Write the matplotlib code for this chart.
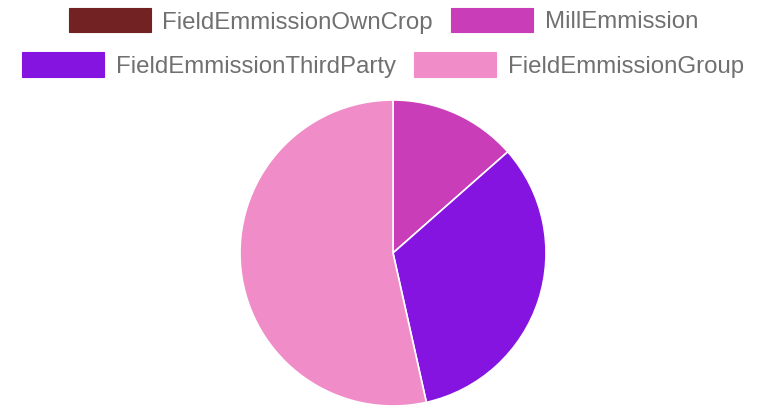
import matplotlib

matplotlib.use("Agg")
import matplotlib.pyplot as plt
from matplotlib.patches import Rectangle


labels = [
    "FieldEmmissionOwnCrop",
    "MillEmmission",
    "FieldEmmissionThirdParty",
    "FieldEmmissionGroup",
]
values = [0.0, 13.5, 33.0, 53.5]
colors = ["#722222", "#C93DB8", "#8514E0", "#F08DC8"]

FIG_W, FIG_H = 769, 408
DPI = 100

plt.rcParams["font.family"] = ["Liberation Sans", "DejaVu Sans"]

figure = plt.figure(figsize=(FIG_W / DPI, FIG_H / DPI), dpi=DPI)

# pie: centre (393, 253) px from top, radius 153 px
cx, cy, radius = 393, 253, 153
axis = figure.add_axes([
    (cx - radius) / FIG_W,
    (FIG_H - cy - radius) / FIG_H,
    2 * radius / FIG_W,
    2 * radius / FIG_H,
])
axis.pie(
    values,
    colors=colors,
    startangle=90,
    counterclock=False,
    radius=1.0,
    wedgeprops={"edgecolor": "white", "linewidth": 1.2},
)
axis.set_xlim(-1.0, 1.0)
axis.set_ylim(-1.0, 1.0)
axis.set_aspect("equal")
axis.axis("off")

# legend, chart.js style: rows wrapped to the canvas width and centred
box_w, box_h = 82, 24
text_gap, item_gap = 12, 18
font_size = 17.3
row_centres = [20, 64.5]
max_row_width = FIG_W - 20

renderer = figure.canvas.get_renderer()
text_widths = []
for label in labels:
    probe = figure.text(0, 0, label, fontsize=font_size)
    text_widths.append(probe.get_window_extent(renderer).width)
    probe.remove()

item_widths = [box_w + text_gap + w for w in text_widths]
rows = [[]]
row_width = 0.0
for idx, width in enumerate(item_widths):
    extra = width if not rows[-1] else width + item_gap
    if rows[-1] and row_width + extra > max_row_width:
        rows.append([])
        row_width = 0.0
        extra = width
    rows[-1].append(idx)
    row_width += extra

for row_idx, row in enumerate(rows):
    total = sum(item_widths[i] for i in row) + item_gap * (len(row) - 1)
    x = (FIG_W - 2) / 2 - total / 2
    y_mid = row_centres[row_idx]
    for idx in row:
        figure.add_artist(Rectangle(
            (x / FIG_W, (FIG_H - y_mid - box_h / 2) / FIG_H),
            box_w / FIG_W,
            box_h / FIG_H,
            transform=figure.transFigure,
            facecolor=colors[idx],
            edgecolor=colors[idx],
            linewidth=0.8,
        ))
        figure.text(
            (x + box_w + text_gap) / FIG_W,
            (FIG_H - y_mid) / FIG_H,
            labels[idx],
            fontsize=font_size,
            color="#707070",
            ha="left",
            va="center_baseline",
        )
        x += item_widths[idx] + item_gap

figure.savefig("out.png", dpi=DPI)
plt.close(figure)
